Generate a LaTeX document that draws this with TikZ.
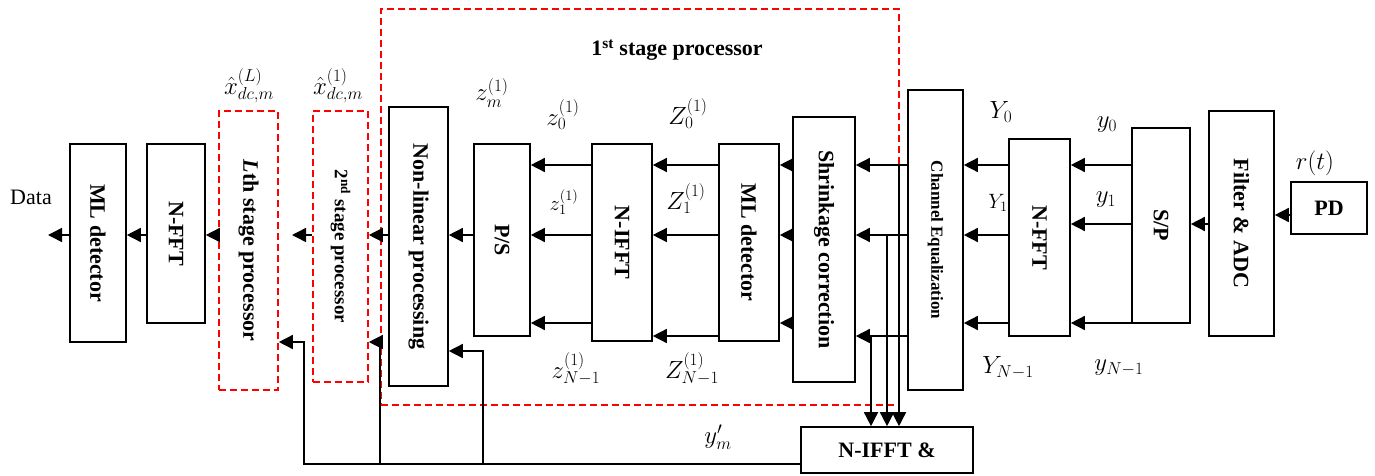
\documentclass[tikz,border=0pt]{standalone}
\usepackage{fontspec}
\setmainfont{Liberation Serif}
\usepackage{graphicx}
\usetikzlibrary{arrows.meta,calc}
\tikzset{
 blk/.style={draw, line width=1.6pt, inner sep=0pt, font=\bfseries\fontsize{22}{24}\selectfont},
 redbox/.style={draw=red, line width=1.6pt, dash pattern=on 7pt off 4pt, inner sep=0pt, font=\bfseries\fontsize{22}{24}\selectfont},
 arr/.style={line width=1.5pt, -{Triangle[length=14pt,width=14pt]}},
 wire/.style={line width=1.5pt},
 lab/.style={font=\fontsize{24}{26}\selectfont, inner sep=0pt},
 slab/.style={font=\fontsize{20}{22}\selectfont, inner sep=0pt},
}
\newcommand{\blkbox}[7]{\node[#1, minimum width={#5pt-#3pt}, minimum height={#6pt-#4pt}] (#2) at ({(#3+#5)/2},{(#4+#6)/2}) {#7};}
\begin{document}
\begin{tikzpicture}[x=1pt,y=-1pt]
\useasboundingbox (0,0) rectangle (1375,476);
% outer first stage box
\blkbox{redbox}{stageone}{381}{9}{899}{405}{}
\node[font=\bfseries\fontsize{22}{24}\selectfont, inner sep=0pt] (title) at (677,50) {1\textsuperscript{st} stage processor};
% boxes
\blkbox{blk}{mlL}{70}{144}{126}{342}{\rotatebox{-90}{ML detector}}
\blkbox{blk}{nfftL}{147}{144}{205}{323}{\rotatebox{-90}{N-FFT}}
\blkbox{redbox}{lth}{219}{111}{278}{390}{\rotatebox{-90}{\textit{L}th stage processor}}
\blkbox{redbox}{second}{313}{111}{368}{382}{\fontsize{19}{21}\selectfont\rotatebox{-90}{2\textsuperscript{nd} stage processor}}
\blkbox{blk}{nonlin}{389}{107}{448}{386}{\rotatebox{-90}{Non-linear processing}}
\blkbox{blk}{ps}{474}{144}{530}{336}{\rotatebox{-90}{P/S}}
\blkbox{blk}{nifft}{592}{144}{652}{341}{\rotatebox{-90}{N-IFFT}}
\blkbox{blk}{mlM}{719}{144}{779}{341}{\rotatebox{-90}{ML detector}}
\blkbox{blk}{shrink}{793}{117}{855}{382}{\rotatebox{-90}{Shrinkage correction}}
\blkbox{blk}{chan}{908}{90}{963}{390}{\fontsize{17}{19}\selectfont\rotatebox{-90}{Channel Equalization}}
\blkbox{blk}{nfftR}{1009}{139}{1070}{336}{\rotatebox{-90}{N-FFT}}
\blkbox{blk}{sp}{1132}{128}{1190}{323}{\rotatebox{-90}{S/P}}
\blkbox{blk}{filt}{1209}{111}{1274}{336}{\rotatebox{-90}{Filter \& ADC}}
\blkbox{blk}{pd}{1291}{182}{1367}{234}{PD}
\blkbox{blk}{iffp}{801}{427}{973}{473}{N-IFFT \&}
% row coordinates
\coordinate (r165) at (0,165);
\coordinate (r224) at (0,224);
\coordinate (r215) at (0,215);
\coordinate (r235) at (0,235);
\coordinate (r323) at (0,323);
\coordinate (r336) at (0,336);
\coordinate (r464) at (0,464);
\coordinate (dataout) at (48,235);
\coordinate (gapL) at (292,235);
% main left chain
\draw[arr] (mlL.west |- r235) -- (dataout);
\draw[arr] (nfftL.west |- r235) -- (mlL.east |- r235);
\draw[arr] (lth.west |- r235) -- (nfftL.east |- r235);
\draw[arr] (second.west |- r235) -- (gapL);
\draw[arr] (nonlin.west |- r235) -- (second.east |- r235);
\draw[arr] (ps.west |- r235) -- (nonlin.east |- r235);
% ps <- nifft
\foreach \r in {r165,r235,r323} \draw[arr] (nifft.west |- \r) -- (ps.east |- \r);
% nifft <- mlM
\foreach \r in {r165,r235,r336} \draw[arr] (mlM.west |- \r) -- (nifft.east |- \r);
% mlM <- shrink
\foreach \r in {r165,r235,r323} \draw[arr] (shrink.west |- \r) -- (mlM.east |- \r);
% shrink <- chan
\foreach \r in {r165,r235,r336} \draw[arr] (chan.west |- \r) -- (shrink.east |- \r);
% chan <- nfftR
\foreach \r in {r165,r235,r323} \draw[arr] (nfftR.west |- \r) -- (chan.east |- \r);
% nfftR <- sp
\foreach \r in {r165,r224,r323} \draw[arr] (sp.west |- \r) -- (nfftR.east |- \r);
\draw[arr] (filt.west |- r224) -- (sp.east |- r224);
\draw[arr] (pd.west |- r215) -- (filt.east |- r215);
% branches down to N-IFFT &
\coordinate (j1) at (899,165);
\coordinate (j2) at (887,235);
\coordinate (j3) at (871,336);
\draw[arr] (j1) -- (j1 |- iffp.north);
\draw[arr] (j2) -- (j2 |- iffp.north);
\draw[arr] (j3) -- (j3 |- iffp.north);
% feedback
\coordinate (fbL) at (304,342);
\coordinate (fbM) at (380,342);
\coordinate (fbN) at (483,351);
\draw[arr] (iffp.west |- r464) -| (fbL) -- (lth.east |- fbL);
\draw[arr] (fbM |- r464) -- (fbM) -- (second.east |- fbM);
\draw[arr] (fbN |- r464) -- (fbN) -- (nonlin.east |- fbN);
% labels
\node[font=\fontsize{22}{24}\selectfont, inner sep=0pt] (data) at (31,197) {Data};
\node[lab] (xL) at (249,86) {$\hat{x}^{(L)}_{dc,m}$};
\node[lab] (x1) at (338,86) {$\hat{x}^{(1)}_{dc,m}$};
\node[lab] (zm) at (492,93) {$z^{(1)}_{m}$};
\node[lab] (z0) at (563,115) {$z^{(1)}_{0}$};
\node[slab] (z1) at (564,202) {$z^{(1)}_{1}$};
\node[lab] (zN) at (576,369) {$z^{(1)}_{N-1}$};
\node[lab] (Z0) at (688,114) {$Z^{(1)}_{0}$};
\node[lab] (Z1) at (686,199) {$Z^{(1)}_{1}$};
\node[lab] (ZN) at (692,369) {$Z^{(1)}_{N-1}$};
\node[lab] (Y0) at (1001,112) {$Y_{0}$};
\node[slab] (Y1) at (998,203) {$Y_{1}$};
\node[lab] (YN) at (1008,368) {$Y_{N-1}$};
\node[lab] (y0) at (1107,125) {$y_{0}$};
\node[lab] (y1) at (1106,200) {$y_{1}$};
\node[lab] (yN) at (1119,368) {$y_{N-1}$};
\node[lab] (rt) at (1315,163) {$r(t)$};
\node[lab] (ym) at (718,437) {$y'_{m}$};
\end{tikzpicture}
\end{document}
